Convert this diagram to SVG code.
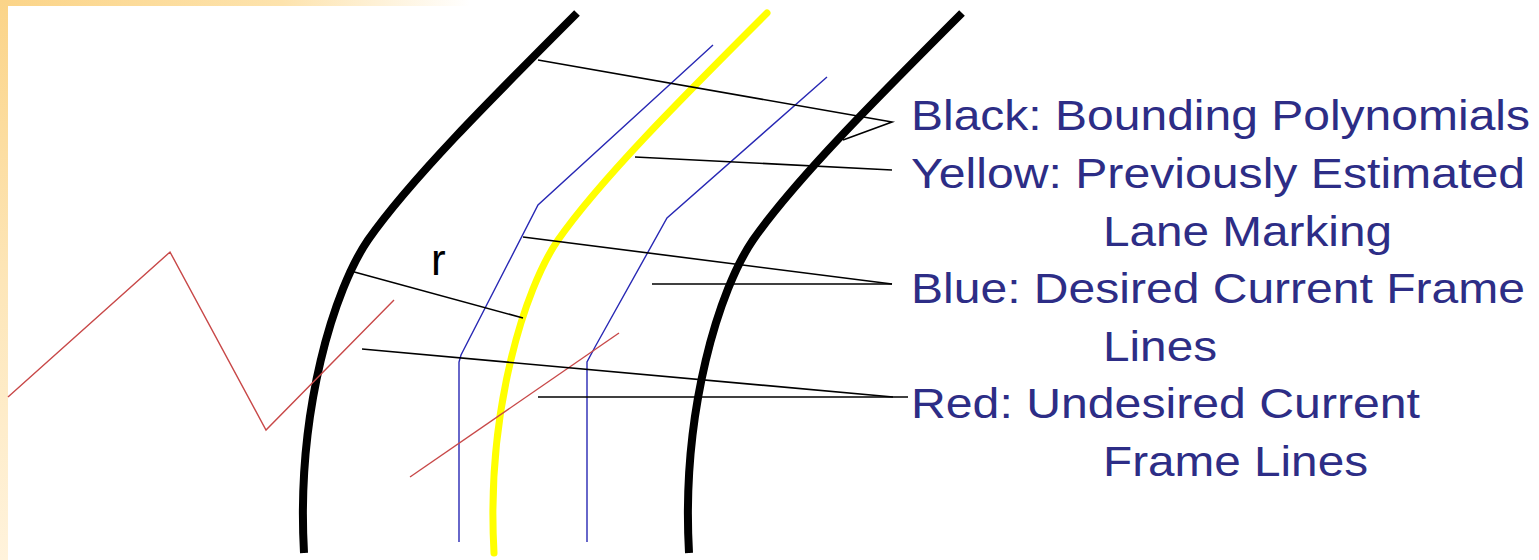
<svg xmlns="http://www.w3.org/2000/svg" width="1539" height="560" viewBox="0 0 1539 560">
<defs>
<linearGradient id="topStrip" x1="0" y1="0" x2="1" y2="0">
<stop offset="0" stop-color="#fbd488"/>
<stop offset="0.6" stop-color="#fde3ad"/>
<stop offset="1" stop-color="#ffffff"/>
</linearGradient>
<linearGradient id="leftStrip" x1="0" y1="0" x2="0" y2="1">
<stop offset="0" stop-color="#fbd488"/>
<stop offset="0.5" stop-color="#fde6b8"/>
<stop offset="1" stop-color="#fff3dc"/>
</linearGradient>
<path id="bound" d="M577,13 C490,100 410,180 368,240 C335,288 296,410 304,553"/>
</defs>
<style>
.bg{fill:#ffffff}
.black{fill:none;stroke:#000000;stroke-width:8}
.yellow{fill:none;stroke:#ffff00;stroke-width:7;stroke-linecap:round}
.blue{fill:none;stroke:#2828b4;stroke-width:1.4}
.red{fill:none;stroke:#c84848;stroke-width:1.4}
.conn{fill:none;stroke:#000000;stroke-width:1.6}
.lbl{font-family:"Liberation Sans",Arial,sans-serif;font-size:42px;fill:#2d2d86}
.r{font-family:"Liberation Sans",Arial,sans-serif;font-size:44px;fill:#000000}
</style>
<rect class="bg" x="0" y="0" width="1539" height="560"/>
<rect x="0" y="0" width="470" height="6" fill="url(#topStrip)"/>
<rect x="0" y="0" width="8" height="560" fill="url(#leftStrip)"/>

<g id="left-boundary"><use href="#bound" class="black"/></g>
<g id="right-boundary"><use href="#bound" class="black" transform="translate(385,0)"/></g>
<g id="yellow-lane"><use href="#bound" class="yellow" transform="translate(190,0)"/></g>
<g id="blue-lines">
<path class="blue" d="M713,45 L538,205 L461,355 L459,362 L459,542"/>
<path class="blue" d="M827,77 L667,218 L595,347 L587,362 L587,542"/>
</g>
<g id="red-lines">
<path class="red" d="M8,397 L170,252 L266,430 L394,300"/>
<path class="red" d="M410,477 L619,333"/>
</g>
<g id="label-r"><text class="r" x="431" y="275">r</text></g>

<g id="connectors">
<path class="conn" d="M538,60 L892,122 L843,140"/>
<path class="conn" d="M635,157 L892,170"/>
<path class="conn" d="M523,237 L892,284"/>
<path class="conn" d="M652,284 L892,284"/>
<path class="conn" d="M347,270 L523,318"/>
<path class="conn" d="M362,349 L893,397"/>
<path class="conn" d="M538,397 L908,397"/>
</g>

<g id="legend-black"><text class="lbl" x="911" y="130" textLength="619" lengthAdjust="spacingAndGlyphs">Black: Bounding Polynomials</text></g>
<g id="legend-yellow">
<text class="lbl" x="911" y="188" textLength="614" lengthAdjust="spacingAndGlyphs">Yellow: Previously Estimated</text>
<text class="lbl" x="1103" y="246" textLength="289" lengthAdjust="spacingAndGlyphs">Lane Marking</text>
</g>
<g id="legend-blue">
<text class="lbl" x="911" y="303" textLength="614" lengthAdjust="spacingAndGlyphs">Blue: Desired Current Frame</text>
<text class="lbl" x="1103" y="361" textLength="114" lengthAdjust="spacingAndGlyphs">Lines</text>
</g>
<g id="legend-red">
<text class="lbl" x="911" y="418" textLength="509" lengthAdjust="spacingAndGlyphs">Red: Undesired Current</text>
<text class="lbl" x="1103" y="476" textLength="265" lengthAdjust="spacingAndGlyphs">Frame Lines</text>
</g>
</svg>
